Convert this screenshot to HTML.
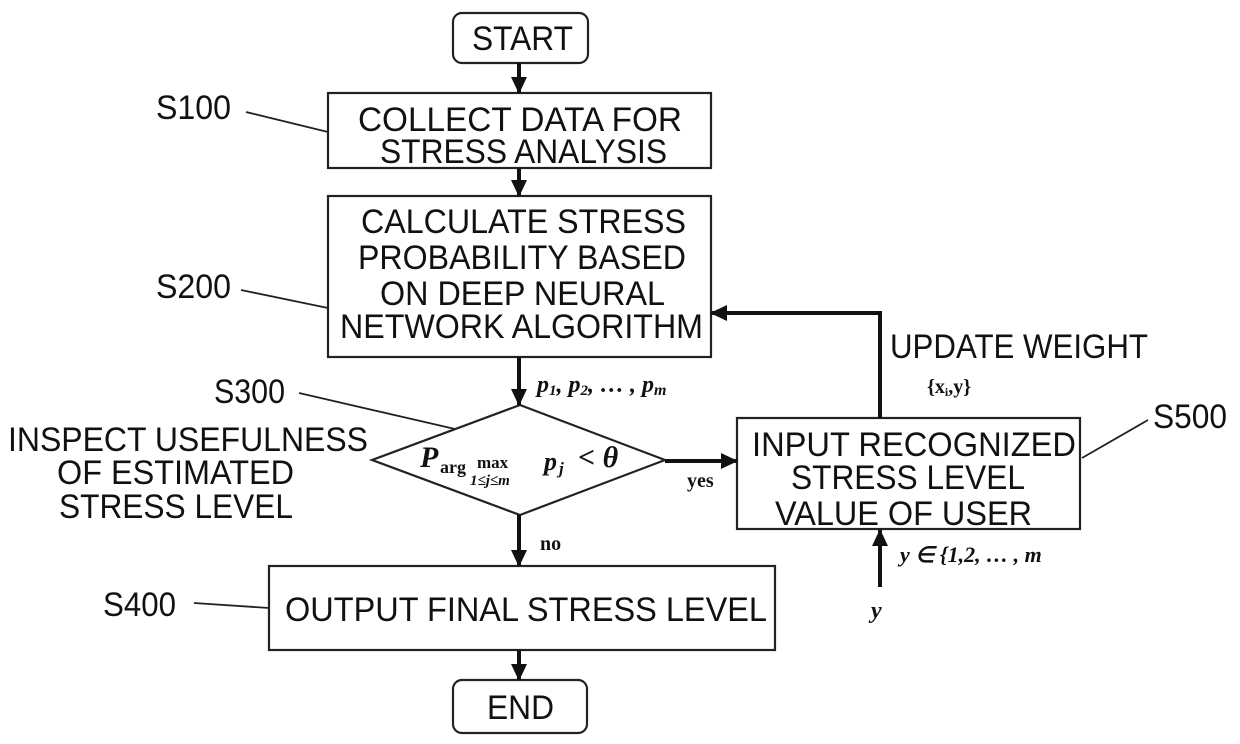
<!DOCTYPE html>
<html><head><meta charset="utf-8"><style>
html,body{margin:0;padding:0;background:#fff;}
svg{display:block;}
.t{font-family:"Liberation Sans",sans-serif;font-size:34px;fill:#111;}
.m{font-family:"Liberation Serif",serif;font-weight:bold;font-style:italic;fill:#111;}
</style></head><body>
<svg width="1240" height="744" viewBox="0 0 1240 744" xmlns="http://www.w3.org/2000/svg">
<defs><marker id="b" markerWidth="18" markerHeight="18" refX="16" refY="9" orient="auto" markerUnits="userSpaceOnUse"><path d="M0,1 L17,9 L0,17 Z" fill="#111"/></marker></defs>
<g fill="none" stroke="#222" stroke-width="2.2">
<rect x="453" y="13" width="135" height="50" rx="9"/>
<rect x="328" y="93" width="383" height="75"/>
<rect x="328" y="196" width="383" height="161"/>
<polygon points="520,405 665,460 520,515 372,460"/>
<rect x="737" y="418" width="343" height="111"/>
<rect x="269" y="566" width="506" height="84"/>
<rect x="453" y="680" width="134" height="53" rx="9"/>
<line x1="246" y1="112" x2="328" y2="132" stroke-width="1.8"/>
<line x1="241" y1="290" x2="328" y2="308" stroke-width="1.8"/>
<line x1="299" y1="393" x2="455" y2="429" stroke-width="1.8"/>
<line x1="1082" y1="458" x2="1148" y2="420" stroke-width="1.8"/>
<line x1="194" y1="603" x2="269" y2="608" stroke-width="1.8"/>
</g>
<g stroke="#111" stroke-width="4" fill="none">
<line x1="519" y1="63" x2="519" y2="93" marker-end="url(#b)"/>
<line x1="519" y1="168" x2="519" y2="196" marker-end="url(#b)"/>
<line x1="519" y1="357" x2="519" y2="405" marker-end="url(#b)"/>
<line x1="519" y1="515" x2="519" y2="566" marker-end="url(#b)"/>
<line x1="519" y1="650" x2="519" y2="680" marker-end="url(#b)"/>
<line x1="665" y1="461" x2="737" y2="461" marker-end="url(#b)"/>
<polyline points="880,418 880,313 711,313" marker-end="url(#b)"/>
<line x1="880" y1="587" x2="880" y2="530" marker-end="url(#b)"/>
</g>
<g class="t">
<text x="472" y="50" textLength="101" lengthAdjust="spacingAndGlyphs">START</text>
<text x="358" y="131" textLength="324" lengthAdjust="spacingAndGlyphs">COLLECT DATA FOR</text>
<text x="380" y="163" textLength="287" lengthAdjust="spacingAndGlyphs">STRESS ANALYSIS</text>
<text x="361" y="233" textLength="325" lengthAdjust="spacingAndGlyphs">CALCULATE STRESS</text>
<text x="358" y="269" textLength="328" lengthAdjust="spacingAndGlyphs">PROBABILITY BASED</text>
<text x="380" y="305" textLength="285" lengthAdjust="spacingAndGlyphs">ON DEEP NEURAL</text>
<text x="340" y="338" textLength="363" lengthAdjust="spacingAndGlyphs">NETWORK ALGORITHM</text>
<text x="156" y="119" textLength="75" lengthAdjust="spacingAndGlyphs">S100</text>
<text x="156" y="298" textLength="75" lengthAdjust="spacingAndGlyphs">S200</text>
<text x="214" y="403" textLength="71" lengthAdjust="spacingAndGlyphs">S300</text>
<text x="1153" y="428" textLength="74" lengthAdjust="spacingAndGlyphs">S500</text>
<text x="103" y="616" textLength="73" lengthAdjust="spacingAndGlyphs">S400</text>
<text x="8" y="451" textLength="360" lengthAdjust="spacingAndGlyphs">INSPECT USEFULNESS</text>
<text x="57" y="484" textLength="237" lengthAdjust="spacingAndGlyphs">OF ESTIMATED</text>
<text x="59" y="518" textLength="234" lengthAdjust="spacingAndGlyphs">STRESS LEVEL</text>
<text x="752" y="456" textLength="324" lengthAdjust="spacingAndGlyphs">INPUT RECOGNIZED</text>
<text x="791" y="489" textLength="234" lengthAdjust="spacingAndGlyphs">STRESS LEVEL</text>
<text x="775" y="525" textLength="257" lengthAdjust="spacingAndGlyphs">VALUE OF USER</text>
<text x="890" y="358" textLength="258" lengthAdjust="spacingAndGlyphs">UPDATE WEIGHT</text>
<text x="285" y="621" textLength="482" lengthAdjust="spacingAndGlyphs">OUTPUT FINAL STRESS LEVEL</text>
<text x="487" y="719" textLength="67" lengthAdjust="spacingAndGlyphs">END</text>
</g>
<g class="m">
<text x="537" y="392" font-size="24">p<tspan font-size="15" dy="3">1</tspan><tspan dy="-3">, p</tspan><tspan font-size="15" dy="3">2</tspan><tspan dy="-3">, … , p</tspan><tspan font-size="16" dy="3">m</tspan></text>
<text x="420" y="467" font-size="30">P</text>
<text x="440" y="473" font-size="18" font-style="normal">arg</text>
<text x="477" y="468" font-size="17" font-style="normal">max</text>
<text x="470" y="485" font-size="15">1≤j≤m</text>
<text x="544" y="470" font-size="26">p</text>
<text x="559" y="474" font-size="17">j</text>
<text x="578" y="467" font-size="30">&lt; θ</text>
<text x="687" y="487" font-size="20" font-style="normal">yes</text>
<text x="540" y="550" font-size="20" font-style="normal">no</text>
<text x="927" y="393" font-size="20" font-style="normal">{x<tspan font-size="12" dy="3">i</tspan><tspan dy="-3">,y}</tspan></text>
<text x="900" y="562" font-size="22">y ∈ {1,2, … , m</text>
<text x="871" y="618" font-size="24">y</text>
</g>
</svg>
</body></html>
